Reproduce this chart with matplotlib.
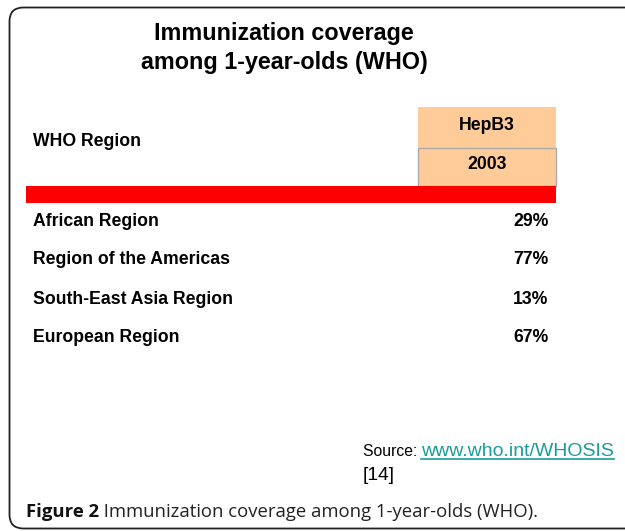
import matplotlib.pyplot as plt
from matplotlib.patches import FancyBboxPatch, Rectangle

# -------------------------------------------------------------------------
# Table content
# -------------------------------------------------------------------------
title_lines = ["Immunization coverage", "among 1-year-olds (WHO)"]
column_label = "WHO Region"
vaccine = "HepB3"
year = "2003"
regions = ["African Region", "Region of the Americas",
           "South-East Asia Region", "European Region"]
coverage = [29, 77, 13, 67]
source_url = "www.who.int/WHOSIS"
reference = "[14]"
caption_bold = "Figure 2"
caption_text = " Immunization coverage among 1-year-olds (WHO)."

W, H = 625, 531
fig = plt.figure(figsize=(W / 100, H / 100), dpi=100)
ax = fig.add_axes([0, 0, 1, 1])
ax.set_xlim(0, W)
ax.set_ylim(H, 0)
ax.axis("off")

sans = "Liberation Sans"
bold = dict(fontsize=12.7, fontweight="bold", family=sans, va="baseline")
teal = "#1a9c9c"

# outer rounded frame (runs off the right edge)
frame = FancyBboxPatch((9.5, 7.5), 640, 521, boxstyle="round,pad=0,rounding_size=14",
                       fc="none", ec="#222222", lw=1.3)
ax.add_patch(frame)

# title
ax.text(284, 40, title_lines[0], ha="center", va="baseline",
        fontsize=16.8, fontweight="bold", family=sans)
ax.text(284, 68.5, title_lines[1], ha="center", va="baseline",
        fontsize=16.8, fontweight="bold", family=sans)

# header
ax.text(33, 146.5, column_label, ha="left", **bold)
ax.add_patch(Rectangle((418, 107), 138, 41, fc="#ffcc99", ec="none"))
ax.add_patch(Rectangle((418, 147.5), 138, 38.5, fc="#ffcc99", ec="#ababab", lw=1))
ax.text(487, 130, vaccine, ha="center", **bold)
ax.text(487, 169, year, ha="center", **bold)

# red rule
ax.add_patch(Rectangle((26, 186), 530, 17, fc="#ff0000", ec="none"))

# rows
row_y0, row_step = 225.5, 39
for i, (name, val) in enumerate(zip(regions, coverage)):
    y = row_y0 + i * row_step
    ax.text(33, y, name, ha="left", **bold)
    ax.text(548.5, y, f"{val}%", ha="right", **bold)

# source
t = ax.text(363, 456, "Source: ", ha="left", va="baseline", fontsize=11.3, family=sans)
fig.canvas.draw()
bb = t.get_window_extent()
link = ax.text(bb.x1 - 1, H - 456, source_url, ha="left", va="baseline", fontsize=14,
               family=sans, color=teal, transform=None)
fig.canvas.draw()
lb = link.get_window_extent()
ax.plot([lb.x0, lb.x1], [H - 459, H - 459], color=teal, lw=1.2, transform=None)
ax.text(363, 480, reference, ha="left", va="baseline", fontsize=13.8, family=sans)

# caption
c = ax.text(26, 517, caption_bold, ha="left", va="baseline", fontsize=13.3,
            fontweight="bold", family="Open Sans", color="#111111")
fig.canvas.draw()
cb = c.get_window_extent()
ax.text(cb.x1, H - 517, caption_text, ha="left", va="baseline", fontsize=13.3,
        family="Open Sans", color="#222222", transform=None)

fig.savefig("out.png", dpi=100)
